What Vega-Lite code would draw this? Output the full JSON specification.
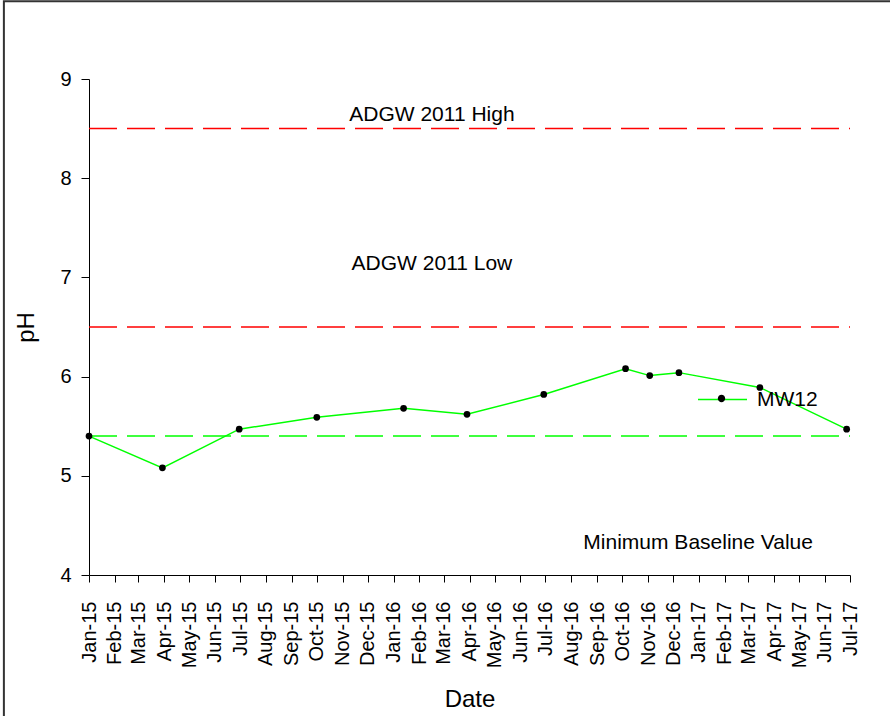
{
  "$schema": "https://vega.github.io/schema/vega-lite/v6.json",
  "width": 761,
  "height": 496,
  "autosize": {"type": "none"},
  "padding": {"left": 89, "top": 79, "right": 40, "bottom": 141},
  "background": "white",
  "config": {
    "view": {"stroke": null},
    "font": "Liberation Sans",
    "axis": {
      "grid": false,
      "domainColor": "black",
      "domainWidth": 1,
      "tickColor": "black",
      "tickWidth": 1,
      "labelColor": "black",
      "titleColor": "black",
      "titleFontWeight": "normal",
      "labelFont": "Liberation Sans",
      "titleFont": "Liberation Sans"
    },
    "legend": {"labelFont": "Liberation Sans"}
  },
  "datasets": {
    "mw12": [
      {"date": "2015-01-01", "ph": 5.40},
      {"date": "2015-03-30", "ph": 5.08},
      {"date": "2015-06-30", "ph": 5.47},
      {"date": "2015-10-01", "ph": 5.59},
      {"date": "2016-01-13", "ph": 5.68},
      {"date": "2016-03-29", "ph": 5.62},
      {"date": "2016-06-29", "ph": 5.82},
      {"date": "2016-10-05", "ph": 6.08},
      {"date": "2016-11-03", "ph": 6.01},
      {"date": "2016-12-08", "ph": 6.04},
      {"date": "2017-03-15", "ph": 5.89},
      {"date": "2017-06-27", "ph": 5.47}
    ],
    "standards": [{"ph": 8.5}, {"ph": 6.5}],
    "baseline": [{"ph": 5.4}],
    "notes": [
      {"date": "2016-02-16", "ph": 8.58, "note": "ADGW 2011 High"},
      {"date": "2016-02-16", "ph": 7.07, "note": "ADGW 2011 Low"},
      {"date": "2016-12-31", "ph": 4.26, "note": "Minimum Baseline Value"}
    ]
  },
  "layer": [
    {
      "data": {"values": [{"part": "border"}]},
      "mark": {"type": "rect", "fill": "transparent", "stroke": "#333333", "strokeWidth": 2, "clip": false},
      "encoding": {
        "x": {"datum": {"year": 2014, "month": 9, "date": 21, "utc": true}, "type": "temporal",
              "scale": {"type": "utc", "domain": [{"year": 2015, "month": 1, "date": 1, "utc": true}, {"year": 2017, "month": 7, "date": 1, "utc": true}]}},
        "x2": {"datum": {"year": 2019, "month": 1, "date": 1, "utc": true}},
        "y": {"datum": 9.783, "type": "quantitative", "scale": {"domain": [4, 9]}},
        "y2": {"datum": 0}
      }
    },
    {
      "data": {"name": "standards"},
      "mark": {"type": "rule", "color": "#ff0000", "strokeWidth": 1.5, "strokeDash": [28, 10], "strokeDashOffset": 27},
      "encoding": {
        "y": {"field": "ph", "type": "quantitative", "scale": {"domain": [4, 9]}}
      }
    },
    {
      "data": {"name": "baseline"},
      "mark": {"type": "rule", "color": "#00ff00", "strokeWidth": 1.5, "strokeDash": [28, 10], "strokeDashOffset": 27},
      "encoding": {
        "y": {"field": "ph", "type": "quantitative", "scale": {"domain": [4, 9]}}
      }
    },
    {
      "data": {"name": "mw12"},
      "mark": {"type": "line", "strokeWidth": 1.5},
      "encoding": {
        "x": {
          "field": "date", "type": "temporal",
          "scale": {"type": "utc", "domain": [{"year": 2015, "month": 1, "date": 1, "utc": true}, {"year": 2017, "month": 7, "date": 1, "utc": true}]},
          "axis": {
            "title": "Date", "format": "%b-%y",
            "tickCount": {"interval": "month", "step": 1},
            "labelAngle": -90, "labelAlign": "right", "labelBaseline": "middle",
            "labelPadding": 19, "tickSize": 7, "labelFontSize": 20,
            "labelOverlap": false, "labelFlush": false,
            "titleFontSize": 24, "titleY": 131, "titleBaseline": "alphabetic"
          }
        },
        "y": {
          "field": "ph", "type": "quantitative",
          "scale": {"domain": [4, 9]},
          "axis": {
            "title": "pH", "values": [4, 5, 6, 7, 8, 9], "format": "d",
            "tickSize": 8, "labelPadding": 10, "labelFontSize": 20,
            "titleFontSize": 24, "titleAngle": -90, "titleX": -56, "titleBaseline": "alphabetic"
          }
        },
        "stroke": {
          "datum": "MW12", "type": "nominal",
          "scale": {"range": ["#00ff00"]},
          "legend": {
            "orient": "none", "legendX": 608, "legendY": 295, "title": null, "padding": 0,
            "symbolType": "M-1,0H1", "symbolSize": 2401, "symbolStrokeWidth": 1.5,
            "labelFontSize": 21, "labelOffset": 9, "labelColor": "black"
          }
        }
      }
    },
    {
      "data": {"name": "mw12"},
      "mark": {"type": "point", "filled": true, "size": 45, "strokeWidth": 0, "opacity": 1},
      "encoding": {
        "x": {"field": "date", "type": "temporal",
              "scale": {"type": "utc", "domain": [{"year": 2015, "month": 1, "date": 1, "utc": true}, {"year": 2017, "month": 7, "date": 1, "utc": true}]}},
        "y": {"field": "ph", "type": "quantitative", "scale": {"domain": [4, 9]}},
        "fill": {
          "datum": "MW12", "type": "nominal",
          "scale": {"range": ["black"]},
          "legend": {
            "orient": "none", "legendX": 608, "legendY": 295, "title": null, "padding": 0,
            "symbolType": "M0.15,0A0.15,0.15,0,1,1,-0.15,0A0.15,0.15,0,1,1,0.15,0Z",
            "symbolSize": 2401, "symbolStrokeWidth": 0, "symbolOpacity": 1,
            "labelFontSize": 21, "labelOffset": 9, "labelExpr": "''"
          }
        }
      }
    },
    {
      "data": {"name": "notes"},
      "mark": {"type": "text", "align": "center", "baseline": "alphabetic", "fontSize": 21, "color": "black", "font": "Liberation Sans"},
      "encoding": {
        "x": {"field": "date", "type": "temporal",
              "scale": {"type": "utc", "domain": [{"year": 2015, "month": 1, "date": 1, "utc": true}, {"year": 2017, "month": 7, "date": 1, "utc": true}]}},
        "y": {"field": "ph", "type": "quantitative", "scale": {"domain": [4, 9]}},
        "text": {"field": "note"}
      }
    }
  ],
  "resolve": {"legend": {"stroke": "independent", "fill": "independent"}}
}
